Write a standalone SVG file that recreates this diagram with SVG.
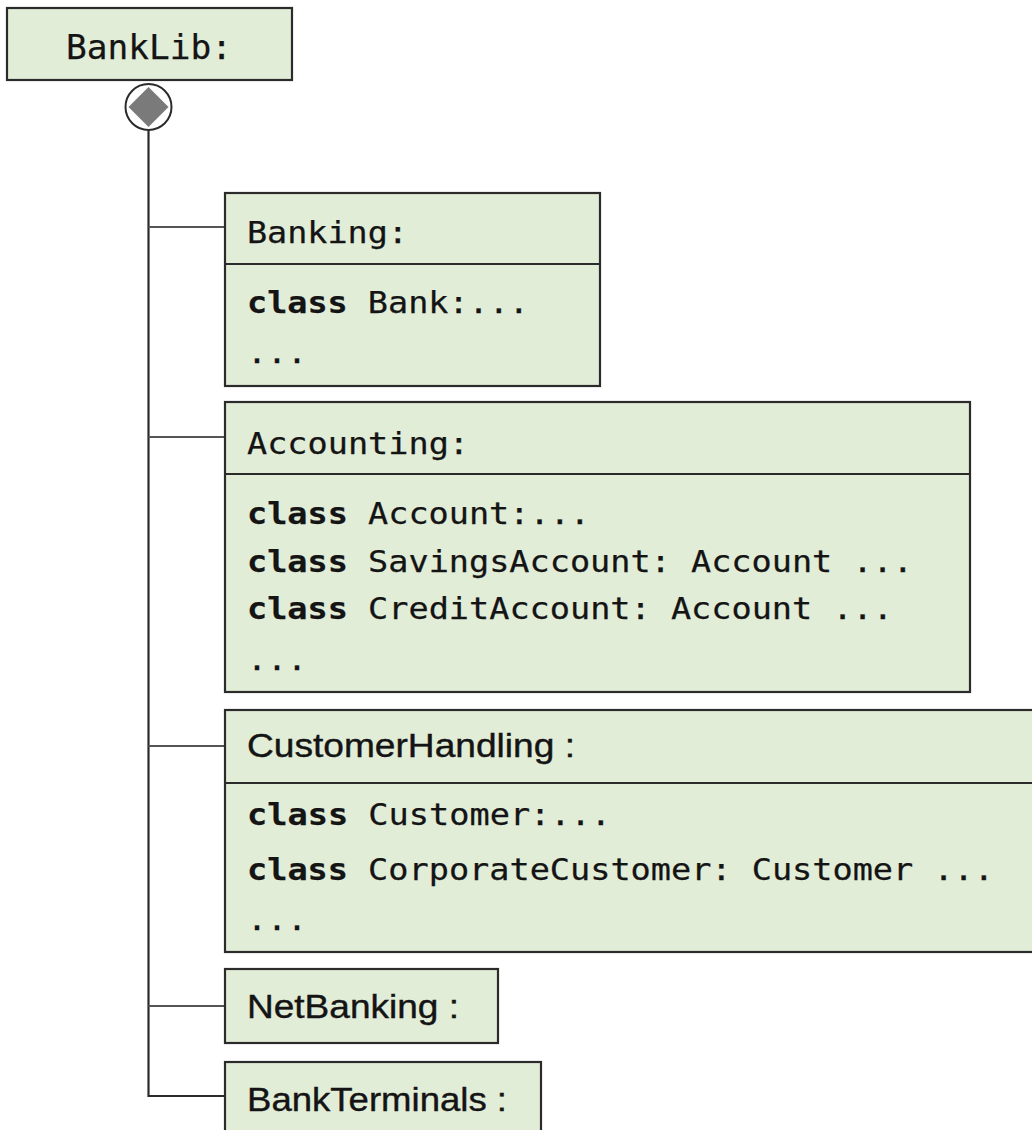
<svg xmlns="http://www.w3.org/2000/svg" width="1032" height="1130" viewBox="0 0 1032 1130">
  <style>
    .box { fill: #e2edd8; stroke: #2b2b2b; stroke-width: 2.2; }
    .sep { stroke: #2b2b2b; stroke-width: 2.2; }
    .mono { font-family: "DejaVu Sans Mono", "Liberation Mono", monospace; font-size: 30px; fill: #141414; stroke: #141414; stroke-width: 0.25; }
    .kw { font-weight: bold; }
    .sans { font-family: "Liberation Sans", Arial, sans-serif; font-size: 33px; fill: #141414; stroke: #141414; stroke-width: 0.4; }
    .link { stroke: #555555; stroke-width: 2.2; fill: none; }
    .trunk { stroke: #2b2b2b; stroke-width: 2.2; fill: none; }
  </style>

  <rect width="1032" height="1130" fill="#ffffff"/>

  <!-- root package -->
  <g id="banklib">
    <rect class="box" x="7" y="8" width="285" height="72"/>
    <text class="mono" x="66" y="59" style="font-size:34px" textLength="166" lengthAdjust="spacingAndGlyphs">BankLib:</text>
  </g>

  <!-- composition symbol and tree connectors -->
  <g id="connectors">
    <circle cx="148.5" cy="107" r="23" fill="#ffffff" stroke="#2b2b2b" stroke-width="2"/>
    <polygon points="148.5,87 168.5,107 148.5,127 128.5,107" fill="#7a7a7a"/>
    <path class="trunk" d="M148.5,130 V1096 H225"/>
    <line class="link" x1="148.5" y1="227" x2="225" y2="227"/>
    <line class="link" x1="148.5" y1="437" x2="225" y2="437"/>
    <line class="link" x1="148.5" y1="746" x2="225" y2="746"/>
    <line class="link" x1="148.5" y1="1006" x2="225" y2="1006"/>
  </g>

  <g id="banking">
    <rect class="box" x="225" y="193" width="375" height="193"/>
    <line class="sep" x1="225" y1="264" x2="600" y2="264"/>
    <text class="mono" x="247" y="243" textLength="161" lengthAdjust="spacingAndGlyphs">Banking:</text>
    <text class="mono" x="247" y="313" textLength="282" lengthAdjust="spacingAndGlyphs"><tspan class="kw">class</tspan> Bank:...</text>
    <text class="mono" x="247" y="363" textLength="60" lengthAdjust="spacingAndGlyphs">...</text>
  </g>

  <g id="accounting">
    <rect class="box" x="225" y="402" width="745" height="290"/>
    <line class="sep" x1="225" y1="474" x2="970" y2="474"/>
    <text class="mono" x="247" y="454" textLength="222" lengthAdjust="spacingAndGlyphs">Accounting:</text>
    <text class="mono" x="247" y="524" textLength="343" lengthAdjust="spacingAndGlyphs"><tspan class="kw">class</tspan> Account:...</text>
    <text class="mono" x="247" y="572" textLength="666" lengthAdjust="spacingAndGlyphs"><tspan class="kw">class</tspan> SavingsAccount: Account ...</text>
    <text class="mono" x="247" y="619" textLength="646" lengthAdjust="spacingAndGlyphs"><tspan class="kw">class</tspan> CreditAccount: Account ...</text>
    <text class="mono" x="247" y="670" textLength="60" lengthAdjust="spacingAndGlyphs">...</text>
  </g>

  <g id="customerhandling">
    <rect class="box" x="225" y="710" width="820" height="242"/>
    <line class="sep" x1="225" y1="783" x2="1045" y2="783"/>
    <text class="sans" x="247" y="757" textLength="328" lengthAdjust="spacingAndGlyphs">CustomerHandling :</text>
    <text class="mono" x="247" y="825" textLength="364" lengthAdjust="spacingAndGlyphs"><tspan class="kw">class</tspan> Customer:...</text>
    <text class="mono" x="247" y="880" textLength="747" lengthAdjust="spacingAndGlyphs"><tspan class="kw">class</tspan> CorporateCustomer: Customer ...</text>
    <text class="mono" x="247" y="930" textLength="60" lengthAdjust="spacingAndGlyphs">...</text>
  </g>

  <g id="netbanking">
    <rect class="box" x="225" y="969" width="273" height="74"/>
    <text class="sans" x="247" y="1018" textLength="212" lengthAdjust="spacingAndGlyphs">NetBanking :</text>
  </g>

  <g id="bankterminals">
    <rect class="box" x="225" y="1062" width="316" height="90"/>
    <text class="sans" x="247" y="1111" textLength="260" lengthAdjust="spacingAndGlyphs">BankTerminals :</text>
  </g>
</svg>
